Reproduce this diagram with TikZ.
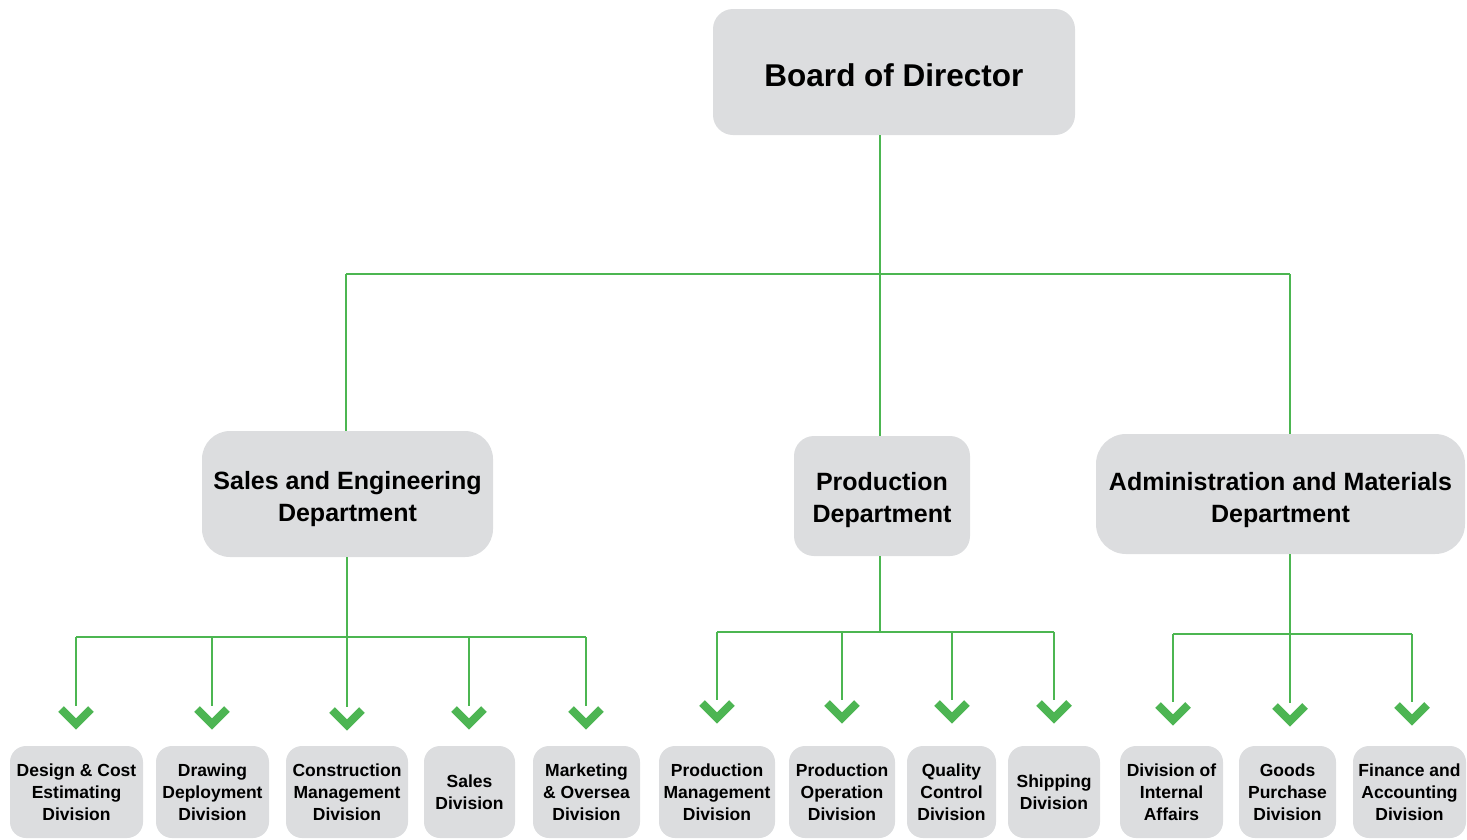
\documentclass[tikz,border=0pt]{standalone}
\usepackage{fontspec}
\setmainfont{Liberation Sans}
\definecolor{boxgray}{HTML}{DCDDDF}
\definecolor{lgreen}{HTML}{4CB651}
\definecolor{cgreen}{HTML}{4DB553}
\newcommand{\lowerby}[1]{\rule{0pt}{#1}}
\begin{document}
\begin{tikzpicture}[x=1pt,y=-1pt,
  box/.style={fill=boxgray, draw=none, align=center, text=black, inner sep=0pt},
  topbox/.style={box, rounded corners=20pt, font=\bfseries\fontsize{31.5}{38}\selectfont},
  deptbox/.style={box, font=\bfseries\fontsize{25}{32}\selectfont},
  divbox/.style={box, rounded corners=16pt, minimum height=92pt, font=\bfseries\fontsize{17.5}{22}\selectfont},
  conn/.style={draw=lgreen, line width=2pt},
  chev/.style={draw=cgreen, line width=8pt, line cap=butt, line join=miter}
]
\useasboundingbox (0,0) rectangle (1467,839);

% top
\node[topbox, minimum width=362pt, minimum height=126pt] (board) at (894,72) {\lowerby{28.6pt}Board of Director};

% departments
\node[deptbox, rounded corners=28pt, minimum width=291pt, minimum height=126pt] (sales) at (347.5,494) {\lowerby{29pt}Sales and Engineering\\Department};
\node[deptbox, rounded corners=20pt, minimum width=176pt, minimum height=120pt] (prod) at (882,496) {\lowerby{27pt}Production\\Department};
\node[deptbox, rounded corners=30pt, minimum width=369pt, minimum height=120pt] (admin) at (1280.5,494) {\lowerby{30pt}Administration and Materials\\Department};

% divisions
\node[divbox, minimum width=133pt] (d1) at (76.5,792) {Design \& Cost\\Estimating\\Division};
\node[divbox, minimum width=113pt] (d2) at (212.5,792) {Drawing\\Deployment\\Division};
\node[divbox, minimum width=122pt] (d3) at (347,792) {Construction\\Management\\Division};
\node[divbox, minimum width=91pt] (d4) at (469.5,792) {Sales\\Division};
\node[divbox, minimum width=107pt] (d5) at (586.5,792) {Marketing\\\& Oversea\\Division};
\node[divbox, minimum width=116pt] (p1) at (717,792) {Production\\Management\\Division};
\node[divbox, minimum width=106pt] (p2) at (842,792) {Production\\Operation\\Division};
\node[divbox, minimum width=89pt] (p3) at (951.5,792) {Quality\\Control\\Division};
\node[divbox, minimum width=92pt] (p4) at (1054,792) {Shipping\\Division};
\node[divbox, minimum width=103pt] (m1) at (1171.5,792) {Division of\\Internal\\Affairs};
\node[divbox, minimum width=97pt] (m2) at (1287.5,792) {Goods\\Purchase\\Division};
\node[divbox, minimum width=113pt] (m3) at (1409.5,792) {Finance and\\Accounting\\Division};

% top bus
\coordinate (b0) at (880,274);
\coordinate (bL) at (346,274);
\coordinate (bR) at (1290,274);
\draw[conn] (board.south -| b0) -- (b0 |- prod.north);
\draw[conn] (bL) -- (bR);
\draw[conn] (bL) -- (bL |- sales.north);
\draw[conn] (bR) -- (bR |- admin.north);

% arrow end coordinates
\coordinate (sbus) at (0,637);
\coordinate (pbus) at (0,632);
\coordinate (mbus) at (0,634);
\coordinate (a1) at (76,706);
\coordinate (a2) at (212,706);
\coordinate (a3) at (347,707);
\coordinate (a4) at (469,706);
\coordinate (a5) at (586,706);
\coordinate (q1) at (717,700);
\coordinate (q2) at (842,700);
\coordinate (q3) at (952,700);
\coordinate (q4) at (1054,700);
\coordinate (r1) at (1173,702);
\coordinate (r2) at (1290,703);
\coordinate (r3) at (1412,702);

% sales branch
\draw[conn] (sales.south -| a3) -- (a3);
\draw[conn] (a1 |- sbus) -- (a5 |- sbus);
\foreach \c in {a1,a2,a4,a5} \draw[conn] (\c |- sbus) -- (\c);
% production branch
\draw[conn] (prod.south -| b0) -- (b0 |- pbus);
\draw[conn] (q1 |- pbus) -- (q4 |- pbus);
\foreach \c in {q1,q2,q3,q4} \draw[conn] (\c |- pbus) -- (\c);
% admin branch
\draw[conn] (admin.south -| r2) -- (r2);
\draw[conn] (r1 |- mbus) -- (r3 |- mbus);
\foreach \c in {r1,r3} \draw[conn] (\c |- mbus) -- (\c);

% chevrons
\foreach \c in {a1,a2,a3,a4,a5,q1,q2,q3,q4,r1,r2,r3}
  \draw[chev] ([shift={(-15,3)}]\c) -- ([shift={(0,18)}]\c) -- ([shift={(15,3)}]\c);
\end{tikzpicture}
\end{document}
